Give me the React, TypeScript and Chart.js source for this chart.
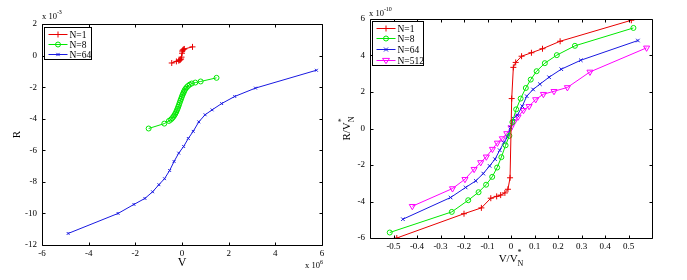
import React, { useEffect, useRef } from "react";
import { Chart, registerables } from "chart.js";
Chart.register(...registerables);

const FONT = "'Liberation Serif', 'Times New Roman', serif";

// ---------- Left panel data (V in units of 1e6, R in units of 1e-3) ----------
const leftXTicks = [-6, -4, -2, 0, 2, 4, 6];
const leftXLabels = ["-6", "-4", "-2", "0", "2", "4", "6"];
const leftYTicks = [-12, -10, -8, -6, -4, -2, 0, 2];
const leftYLabels = ["-12", "-10", "-8", "-6", "-4", "-2", "0", "2"];

const leftN1V = [-0.44, -0.24, -0.14, -0.1, -0.07, -0.04, -0.02, 0.0, 0.01, 0.03, 0.06, 0.1, 0.45];
const leftN1R = [-0.47, -0.37, -0.32, -0.29, -0.26, -0.22, -0.1, 0.15, 0.28, 0.34, 0.39, 0.42, 0.55];

const leftN8V = [-1.43, -0.76, -0.56, -0.48, -0.42, -0.37, -0.33, -0.29, -0.25, -0.22, -0.19, -0.16, -0.13, -0.1, -0.07, -0.04, -0.01, 0.02, 0.05, 0.08, 0.11, 0.15, 0.2, 0.26, 0.33, 0.42, 0.57, 0.8, 1.48];
const leftN8R = [-4.62, -4.31, -4.14, -4.06, -3.97, -3.88, -3.79, -3.69, -3.58, -3.47, -3.36, -3.24, -3.12, -2.99, -2.86, -2.74, -2.62, -2.5, -2.4, -2.3, -2.2, -2.1, -2.01, -1.92, -1.84, -1.77, -1.71, -1.64, -1.41];

const leftN64V = [-4.88, -2.74, -2.06, -1.59, -1.26, -0.99, -0.75, -0.53, -0.34, -0.14, 0.07, 0.27, 0.48, 0.72, 0.99, 1.29, 1.7, 2.26, 3.15, 5.76];
const leftN64R = [-11.27, -10.0, -9.43, -9.05, -8.63, -8.18, -7.8, -7.28, -6.71, -6.18, -5.76, -5.25, -4.8, -4.2, -3.75, -3.44, -3.04, -2.59, -2.06, -0.93];

// ---------- Right panel data (V/V*_N, R/V*_N in units of 1e-10) ----------
const rightXTicks = [-0.5, -0.4, -0.3, -0.2, -0.1, 0, 0.1, 0.2, 0.3, 0.4, 0.5];
const rightXLabels = ["-0.5", "-0.4", "-0.3", "-0.2", "-0.1", "0", "0.1", "0.2", "0.3", "0.4", "0.5"];
const rightYTicks = [-6, -4, -2, 0, 2, 4, 6];
const rightYLabels = ["-6", "-4", "-2", "0", "2", "4", "6"];

const rightN1V = [-0.486, -0.2, -0.126, -0.086, -0.061, -0.044, -0.026, -0.013, -0.004, 0.003, 0.01, 0.02, 0.045, 0.087, 0.134, 0.209, 0.512];
const rightN1R = [-6.0, -4.67, -4.35, -3.82, -3.72, -3.65, -3.53, -3.33, -2.7, 1.64, 3.35, 3.62, 3.96, 4.15, 4.37, 4.78, 5.93];

const rightN8V = [-0.516, -0.252, -0.182, -0.138, -0.106, -0.08, -0.059, -0.041, -0.023, -0.007, 0.006, 0.022, 0.041, 0.063, 0.084, 0.109, 0.144, 0.195, 0.272, 0.521];
const rightN8R = [-5.7, -4.57, -3.93, -3.49, -3.08, -2.65, -2.14, -1.57, -0.92, -0.4, 0.35, 1.05, 1.64, 2.22, 2.68, 3.14, 3.58, 4.02, 4.53, 5.51];

const rightN64V = [-0.46, -0.257, -0.193, -0.15, -0.118, -0.091, -0.068, -0.048, -0.03, -0.015, -0.002, 0.01, 0.027, 0.048, 0.067, 0.094, 0.123, 0.162, 0.214, 0.297, 0.54];
const rightN64R = [-4.97, -3.78, -3.23, -2.87, -2.47, -2.05, -1.68, -1.19, -0.77, -0.46, 0.05, 0.55, 0.73, 1.22, 1.77, 2.14, 2.43, 2.81, 3.25, 3.74, 4.82];

const rightN512V = [-0.42, -0.249, -0.196, -0.157, -0.129, -0.105, -0.079, -0.058, -0.037, -0.018, 0.0, 0.013, 0.03, 0.053, 0.077, 0.105, 0.138, 0.183, 0.24, 0.336, 0.577];
const rightN512R = [-4.26, -3.29, -2.78, -2.23, -1.86, -1.55, -1.13, -0.79, -0.55, -0.27, 0.05, 0.36, 0.64, 1.0, 1.22, 1.59, 1.88, 2.04, 2.25, 3.1, 4.42];

const RED = "rgb(232,0,0)";
const GREEN = "rgb(0,232,0)";
const BLUE = "rgb(25,25,225)";
const MAGENTA = "rgb(255,0,255)";

const zip = (xs: number[], ys: number[]) => xs.map((x, i) => ({ x, y: ys[i] }));

type Marker = "cross" | "circle" | "crossRot" | "triDown";

function series(label: string, xs: number[], ys: number[], color: string, marker: Marker, r: number) {
  const base: any = {
    label,
    data: zip(xs, ys),
    showLine: true,
    borderColor: color,
    borderWidth: 1,
    pointBorderColor: color,
    pointBackgroundColor: "rgba(0,0,0,0)",
    pointBorderWidth: 1,
    pointRadius: r,
    tension: 0,
    _marker: marker,
  };
  if (marker === "triDown") {
    base.pointStyle = "triangle";
    base.pointRotation = 180;
  } else {
    base.pointStyle = marker;
  }
  return base;
}

function drawMarker(ctx: CanvasRenderingContext2D, m: Marker, x: number, y: number, r: number, color: string) {
  ctx.save();
  ctx.strokeStyle = color;
  ctx.lineWidth = 1;
  ctx.beginPath();
  if (m === "cross") {
    ctx.moveTo(x - r, y); ctx.lineTo(x + r, y);
    ctx.moveTo(x, y - r); ctx.lineTo(x, y + r);
  } else if (m === "crossRot") {
    const d = r * 0.8;
    ctx.moveTo(x - d, y - d); ctx.lineTo(x + d, y + d);
    ctx.moveTo(x - d, y + d); ctx.lineTo(x + d, y - d);
  } else if (m === "circle") {
    ctx.arc(x, y, r, 0, Math.PI * 2);
  } else {
    ctx.moveTo(x - r, y - r * 0.6); ctx.lineTo(x + r, y - r * 0.6); ctx.lineTo(x, y + r * 0.9); ctx.closePath();
  }
  ctx.stroke();
  ctx.restore();
}

type Part = { t: string; size: number; dy: number; stack?: boolean };
function drawRich(ctx: CanvasRenderingContext2D, parts: Part[], x: number, y: number, align: "left" | "center") {
  ctx.textBaseline = "alphabetic";
  ctx.textAlign = "left";
  const widths = parts.map((p) => { ctx.font = `${p.size}px ${FONT}`; return ctx.measureText(p.t).width; });
  // parts flagged "stack" share the x position of the following part (sup over sub)
  let total = 0;
  parts.forEach((p, i) => {
    if (p.stack) return;
    const prevStacked = i > 0 && parts[i - 1].stack ? widths[i - 1] : 0;
    total += Math.max(widths[i], prevStacked);
  });
  let cx = align === "center" ? x - total / 2 : x;
  parts.forEach((p, i) => {
    ctx.font = `${p.size}px ${FONT}`;
    ctx.fillText(p.t, cx, y + p.dy);
    if (!p.stack) {
      const prevStacked = i > 0 && parts[i - 1].stack ? widths[i - 1] : 0;
      cx += Math.max(widths[i], prevStacked);
    }
  });
}

type LegendCfg = { dx: number; dy: number; w: number; h: number; row0: number; rowH: number; lineX0: number; lineX1: number; textX: number; size: number };

function framePlugin(legend: LegendCfg, drawTexts: (ctx: CanvasRenderingContext2D, a: any) => void) {
  return {
    id: "matlabFrame",
    afterDraw(chart: any) {
      const { ctx, chartArea: a, scales } = chart;
      ctx.save();
      ctx.strokeStyle = "#000";
      ctx.lineWidth = 1;
      const L = Math.round(a.left) + 0.5, R = Math.round(a.right) + 0.5;
      const T = Math.round(a.top) + 0.5, B = Math.round(a.bottom) + 0.5;
      ctx.beginPath();
      ctx.rect(L, T, R - L, B - T);
      const tl = 3;
      scales.x.ticks.forEach((t: any) => {
        const px = Math.round(scales.x.getPixelForValue(t.value)) + 0.5;
        ctx.moveTo(px, B); ctx.lineTo(px, B - tl);
        ctx.moveTo(px, T); ctx.lineTo(px, T + tl);
      });
      scales.y.ticks.forEach((t: any) => {
        const py = Math.round(scales.y.getPixelForValue(t.value)) + 0.5;
        ctx.moveTo(L, py); ctx.lineTo(L + tl, py);
        ctx.moveTo(R, py); ctx.lineTo(R - tl, py);
      });
      ctx.stroke();

      // legend
      const lx = Math.round(a.left + legend.dx) + 0.5;
      const ly = Math.round(a.top + legend.dy) + 0.5;
      ctx.fillStyle = "#fff";
      ctx.fillRect(lx, ly, legend.w, legend.h);
      ctx.strokeStyle = "#000";
      ctx.strokeRect(lx, ly, legend.w, legend.h);
      chart.data.datasets.forEach((ds: any, i: number) => {
        const yy = Math.round(ly + legend.row0 + i * legend.rowH) + 0.5;
        ctx.strokeStyle = ds.borderColor;
        ctx.beginPath();
        ctx.moveTo(lx + legend.lineX0, yy);
        ctx.lineTo(lx + legend.lineX1, yy);
        ctx.stroke();
        drawMarker(ctx, ds._marker, lx + (legend.lineX0 + legend.lineX1) / 2, yy, ds.pointRadius, ds.borderColor);
        ctx.fillStyle = "#000";
        ctx.font = `${legend.size}px ${FONT}`;
        ctx.textAlign = "left";
        ctx.textBaseline = "middle";
        ctx.fillText(ds.label, lx + legend.textX, yy + 0.5);
      });

      ctx.fillStyle = "#000";
      drawTexts(ctx, a);
      ctx.restore();
    },
  };
}

function axisOpts(ticks: number[], labels: string[], min: number, max: number, size: number, pad: number) {
  return {
    type: "linear",
    min,
    max,
    grid: { display: false, drawTicks: false },
    border: { display: false },
    afterBuildTicks: (s: any) => { s.ticks = ticks.map((v) => ({ value: v })); },
    ticks: {
      autoSkip: false,
      maxRotation: 0,
      padding: pad,
      color: "#000",
      font: { family: FONT, size },
      callback: (_v: any, i: number) => labels[i],
    },
  } as any;
}

function fixSize(dim: "width" | "height", v: number) {
  return (s: any) => {
    s[dim] = v;
    s.paddingLeft = 0; s.paddingRight = 0; s.paddingTop = 0; s.paddingBottom = 0;
  };
}

function leftConfig(): any {
  const x = axisOpts(leftXTicks, leftXLabels, -6, 6, 9, 3);
  const y = axisOpts(leftYTicks, leftYLabels, -12, 2, 9, 5);
  x.afterFit = fixSize("height", 35);
  y.afterFit = fixSize("width", 42);
  return {
    type: "scatter",
    data: {
      datasets: [
        series("N=1", leftN1V, leftN1R, RED, "cross", 3),
        series("N=8", leftN8V, leftN8R, GREEN, "circle", 2.5),
        series("N=64", leftN64V, leftN64R, BLUE, "crossRot", 2),
      ],
    },
    options: {
      animation: false,
      responsive: false,
      layout: { padding: { left: 0, top: 24, right: 365, bottom: 0 } },
      scales: { x, y },
      plugins: { legend: { display: false }, tooltip: { enabled: false } },
    },
    plugins: [
      framePlugin(
        { dx: 2, dy: 3, w: 47, h: 32, row0: 6, rowH: 10, lineX0: 4, lineX1: 23, textX: 25, size: 9.5 },
        (ctx, a) => {
          ctx.save();
          ctx.translate(a.left - 22, (a.top + a.bottom) / 2);
          ctx.rotate(-Math.PI / 2);
          drawRich(ctx, [{ t: "R", size: 11, dy: 0 }], 0, 0, "center");
          ctx.restore();
          drawRich(ctx, [{ t: "V", size: 12, dy: 0 }], (a.left + a.right) / 2, a.bottom + 21, "center");
          drawRich(ctx, [{ t: "x 10", size: 8.5, dy: 0 }, { t: "-3", size: 6, dy: -5 }], a.left, a.top - 5, "left");
          drawRich(ctx, [{ t: "x 10", size: 8.5, dy: 0 }, { t: "6", size: 6, dy: -4 }], a.right - 17, a.bottom + 23, "left");
        }
      ),
    ],
  };
}

function rightConfig(): any {
  const x = axisOpts(rightXTicks, rightXLabels, -0.6, 0.6, 9, 3);
  const y = axisOpts(rightYTicks, rightYLabels, -6, 6, 9, 5);
  x.afterFit = fixSize("height", 42);
  y.afterFit = fixSize("width", 370);
  return {
    type: "scatter",
    data: {
      datasets: [
        series("N=1", rightN1V, rightN1R, RED, "cross", 3),
        series("N=8", rightN8V, rightN8R, GREEN, "circle", 2.5),
        series("N=64", rightN64V, rightN64R, BLUE, "crossRot", 2.5),
        series("N=512", rightN512V, rightN512R, MAGENTA, "triDown", 3.5),
      ],
    },
    options: {
      animation: false,
      responsive: false,
      layout: { padding: { left: 0, top: 19, right: 35, bottom: 0 } },
      scales: { x, y },
      plugins: { legend: { display: false }, tooltip: { enabled: false } },
    },
    plugins: [
      framePlugin(
        { dx: 2, dy: 2, w: 51, h: 44, row0: 6, rowH: 10.7, lineX0: 4, lineX1: 23, textX: 25, size: 9.5 },
        (ctx, a) => {
          ctx.save();
          ctx.translate(a.left - 20, (a.top + a.bottom) / 2);
          ctx.rotate(-Math.PI / 2);
          drawRich(
            ctx,
            [
              { t: "R/V", size: 11, dy: 0 },
              { t: "*", size: 8, dy: -6, stack: true },
              { t: "N", size: 8, dy: 4 },
            ],
            0,
            0,
            "center"
          );
          ctx.restore();
          drawRich(
            ctx,
            [
              { t: "V/V", size: 11, dy: 0 },
              { t: "*", size: 8, dy: -7, stack: true },
              { t: "N", size: 8, dy: 4 },
            ],
            (a.left + a.right) / 2,
            a.bottom + 24,
            "center"
          );
          drawRich(ctx, [{ t: "x 10", size: 8.5, dy: 0 }, { t: "-10", size: 6, dy: -5 }], a.left - 1, a.top - 3, "left");
        }
      ),
    ],
  };
}

export default function App() {
  const leftRef = useRef<HTMLCanvasElement>(null);
  const rightRef = useRef<HTMLCanvasElement>(null);
  useEffect(() => {
    const c1 = new Chart(leftRef.current as HTMLCanvasElement, leftConfig());
    const c2 = new Chart(rightRef.current as HTMLCanvasElement, rightConfig());
    return () => {
      c1.destroy();
      c2.destroy();
    };
  }, []);
  const cs: React.CSSProperties = { position: "absolute", left: 0, top: 0, width: 687, height: 280 };
  return (
    <div style={{ position: "absolute", left: 0, top: 0, width: 687, height: 280, background: "#fff" }}>
      <canvas ref={leftRef} width={687} height={280} style={cs} />
      <canvas ref={rightRef} width={687} height={280} style={cs} />
    </div>
  );
}
